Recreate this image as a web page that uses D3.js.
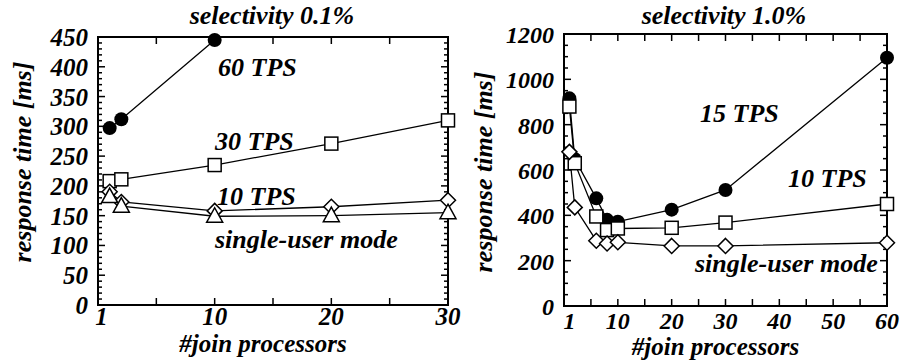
<!DOCTYPE html>
<html>
<head>
<meta charset="utf-8">
<script src="https://cdn.jsdelivr.net/npm/d3@7"></script>
<style>
  body { margin: 0; background: #fff; }
</style>
</head>
<body>
<svg id="chart" width="905" height="362"></svg>
<script>
// left panel: selectivity 0.1%
const xLeft = [1, 2, 10, 20, 30];
const tps60 = [297, 312, 445];
const tps30 = [208, 211, 235, 271, 310];
const tps10 = [190, 173, 158, 165, 176];
const singleLeft = [182, 166, 149, 150, 155];

// right panel: selectivity 1.0%
const xRight = [1, 2, 6, 8, 10, 20, 30, 60];
const tps15 = [916, 648, 475, 380, 372, 425, 512, 1095];
const tps10r = [880, 630, 395, 335, 342, 345, 368, 450];
const singleRight = [680, 435, 288, 276, 281, 265, 265, 279];

const leftXTicks = [1, 10, 20, 30];
const rightXTicks = [1, 10, 20, 30, 40, 50, 60];

const FONT = "Liberation Serif";
const svg = d3.select("#chart");

function txt(g) {
	return g.append("text")
		.style("font-family", FONT)
		.style("font-weight", "700")
		.style("font-style", "italic")
		.attr("fill", "#000");
}

function symbol(g, type, x, y) {
	if (type === "circle") {
		g.append("circle").attr("cx", x).attr("cy", y).attr("r", 7).attr("fill", "#000");
	} else if (type === "square") {
		g.append("rect").attr("x", x - 6.5).attr("y", y - 6.5).attr("width", 13).attr("height", 13)
			.attr("fill", "#fff").attr("stroke", "#000").attr("stroke-width", 1.5);
	} else if (type === "diamond") {
		g.append("path").attr("d", `M${x},${y - 7.5}L${x + 7.5},${y}L${x},${y + 7.5}L${x - 7.5},${y}Z`)
			.attr("fill", "#fff").attr("stroke", "#000").attr("stroke-width", 1.5);
	} else if (type === "triangle") {
		g.append("path").attr("d", `M${x},${y - 8.5}L${x + 8},${y + 6}L${x - 8},${y + 6}Z`)
			.attr("fill", "#fff").attr("stroke", "#000").attr("stroke-width", 1.5);
	}
}

function drawPanel(p) {
	const x = d3.scaleLinear().domain([0, p.xMax]).range([p.left, p.right]);
	const y = d3.scaleLinear().domain([0, p.yMax]).range([p.bottom, p.top]);
	const g = svg.append("g");

	// frame
	g.append("rect")
		.attr("x", p.left).attr("y", p.top)
		.attr("width", p.right - p.left).attr("height", p.bottom - p.top)
		.attr("fill", "none").attr("stroke", "#000").attr("stroke-width", 2);

	// y ticks (mirrored on the right side)
	d3.range(0, p.yMax + 0.1, p.yMinor).forEach(v => {
		const len = v % p.yMajor === 0 ? 7 : 4;
		g.append("line").attr("x1", p.left).attr("x2", p.left + len)
			.attr("y1", y(v)).attr("y2", y(v)).attr("stroke", "#000").attr("stroke-width", 1.5);
		g.append("line").attr("x1", p.right).attr("x2", p.right - len)
			.attr("y1", y(v)).attr("y2", y(v)).attr("stroke", "#000").attr("stroke-width", 1.5);
	});
	// x ticks every 5 (top and bottom)
	d3.range(5, p.xMax, 5).forEach(v => {
		g.append("line").attr("x1", x(v)).attr("x2", x(v))
			.attr("y1", p.bottom).attr("y2", p.bottom - 7).attr("stroke", "#000").attr("stroke-width", 1.5);
		g.append("line").attr("x1", x(v)).attr("x2", x(v))
			.attr("y1", p.top).attr("y2", p.top + 7).attr("stroke", "#000").attr("stroke-width", 1.5);
	});

	// tick labels
	d3.range(0, p.yMax + 0.1, p.yMajor).forEach(v => {
		txt(g).attr("x", p.left - 10).attr("y", y(v) + 9)
			.attr("text-anchor", "end").attr("font-size", p.tickSize).text(v);
	});
	p.xTicks.forEach(v => {
		txt(g).attr("x", x(v === 1 ? p.oneAt : v)).attr("y", p.bottom + p.xLabelDy)
			.attr("text-anchor", "middle").attr("font-size", p.tickSize).text(v);
	});

	// axis titles
	txt(g).attr("x", (p.left + p.right) / 2 - 10).attr("y", p.xTitleY)
		.attr("text-anchor", "middle").attr("font-size", p.xTitleSize).text("#join processors");
	txt(g).attr("transform", `translate(${p.yTitleX},${p.yTitleY}) rotate(-90)`)
		.attr("text-anchor", "middle").attr("font-size", 26).text("response time [ms]");
	txt(g).attr("x", p.titleX).attr("y", 24)
		.attr("text-anchor", "middle").attr("font-size", 26).text(p.title);

	const line = d3.line().x(d => x(d[0])).y(d => y(d[1]));
	p.series.forEach(s => {
		const pts = s.values.map((v, i) => [p.xs[i], v]);
		g.append("path").attr("d", line(pts)).attr("fill", "none")
			.attr("stroke", "#000").attr("stroke-width", 1.3);
	});
	p.series.forEach(s => {
		s.values.forEach((v, i) => symbol(g, s.symbol, x(p.xs[i]), y(v)));
	});

	p.labels.forEach(l => {
		txt(g).attr("x", l.x).attr("y", l.y).attr("font-size", 26).text(l.text);
	});
}

drawPanel({
	left: 98, right: 448, top: 37, bottom: 305,
	xMax: 30, yMax: 450, yMajor: 50, yMinor: 10,
	xs: xLeft, xTicks: leftXTicks, oneAt: 0.3, tickSize: 25, xLabelDy: 20,
	xTitleY: 352, xTitleSize: 25, yTitleX: 31, yTitleY: 162, titleX: 272,
	title: "selectivity 0.1%",
	series: [
		{ values: tps60, symbol: "circle" },
		{ values: tps30, symbol: "square" },
		{ values: tps10, symbol: "diamond" },
		{ values: singleLeft, symbol: "triangle" }
	],
	labels: [
		{ text: "60 TPS", x: 218, y: 76 },
		{ text: "30 TPS", x: 215, y: 150 },
		{ text: "10 TPS", x: 217, y: 205 },
		{ text: "single-user mode", x: 215, y: 248 }
	]
});

drawPanel({
	left: 564, right: 887, top: 34, bottom: 306,
	xMax: 60, yMax: 1200, yMajor: 200, yMinor: 50,
	xs: xRight, xTicks: rightXTicks, oneAt: 1, tickSize: 24, xLabelDy: 23,
	xTitleY: 355, xTitleSize: 25, yTitleX: 492, yTitleY: 172, titleX: 724,
	title: "selectivity 1.0%",
	series: [
		{ values: tps15, symbol: "circle" },
		{ values: tps10r, symbol: "square" },
		{ values: singleRight, symbol: "diamond" }
	],
	labels: [
		{ text: "15 TPS", x: 700, y: 122 },
		{ text: "10 TPS", x: 788, y: 187 },
		{ text: "single-user mode", x: 695, y: 272 }
	]
});
</script>
</body>
</html>
